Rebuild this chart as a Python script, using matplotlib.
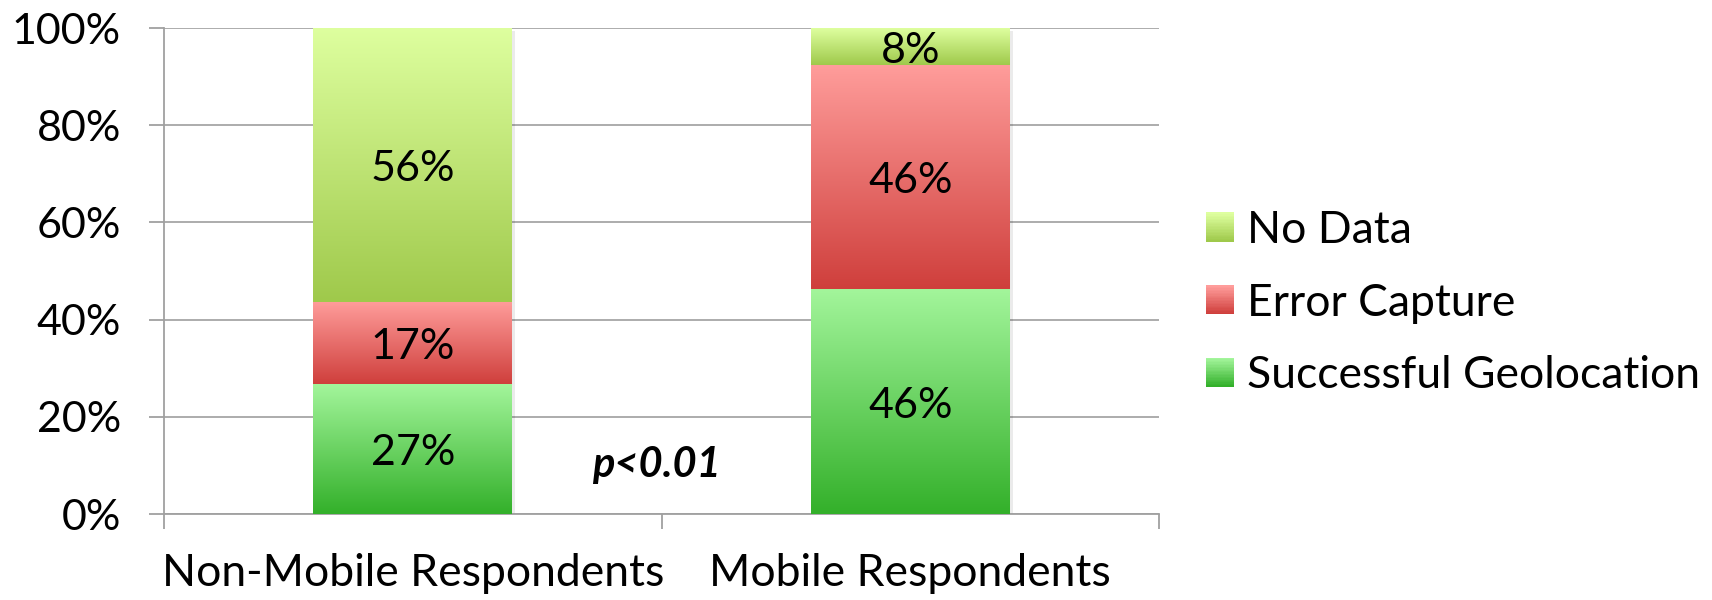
import numpy as np
import matplotlib
matplotlib.use("Agg")
import matplotlib.pyplot as plt
import matplotlib.transforms as mtransforms
from matplotlib.colors import LinearSegmentedColormap
from matplotlib.patches import Rectangle
from matplotlib.legend_handler import HandlerBase

plt.rcParams['font.family'] = ['Lato', 'DejaVu Sans']

categories = ["Non-Mobile Respondents", "Mobile Respondents"]
series_names = ["Successful Geolocation", "Error Capture", "No Data"]
successful = [26.7, 46.2]
error_capture = [16.9, 46.2]
no_data = [56.4, 7.6]
yticks = [0, 20, 40, 60, 80, 100]
annotation = "p<0.01"

# gradient colours (top, bottom)
grads = {
    "Successful Geolocation": ("#a3f59b", "#33b02a"),
    "Error Capture": ("#ff9d9b", "#cf3f3c"),
    "No Data": ("#deff9f", "#9fc94b"),
}

FS = 31

fig = plt.figure(figsize=(17.12, 6.0), dpi=100)
ax = fig.add_axes([164/1712, 86/600, (1159-164)/1712, (514-28)/600])

x = np.arange(len(categories))
width = 0.4
grad_img = np.linspace(1, 0, 256).reshape(-1, 1)
label_tr = ax.transData + mtransforms.ScaledTranslation(0, -3/72, fig.dpi_scale_trans)

bottom = np.zeros(len(categories))
for name, vals in zip(series_names, [successful, error_capture, no_data]):
    top_c, bot_c = grads[name]
    cmap = LinearSegmentedColormap.from_list(name, [bot_c, top_c])
    bars = ax.bar(x, vals, width, bottom=bottom, color='none', edgecolor='none', zorder=3)
    for rect, v, b in zip(bars, vals, bottom):
        x0 = rect.get_x()
        x1 = x0 + rect.get_width()
        # soft shadow
        sh = Rectangle((x0 + 0.006, b - 0.6), rect.get_width(), v, facecolor='#000000',
                       alpha=0.08, edgecolor='none', zorder=2)
        ax.add_patch(sh)
        im = ax.imshow(grad_img, cmap=cmap, aspect='auto', extent=[x0, x1, b, b + v],
                       zorder=3, interpolation='bicubic')
        im.set_clip_path(rect)
        ax.text(rect.get_x() + rect.get_width() / 2, b + v / 2, f"{v:.0f}%",
                ha='center', va='center', fontsize=FS, color='black', zorder=5,
                transform=label_tr)
    bottom = bottom + np.array(vals)

ax.text(0.49, 10, annotation, ha='center', va='center', fontsize=30,
        fontweight='bold', fontstyle='italic', zorder=5)

ax.set_xlim(-0.5, 1.5)
ax.set_ylim(0, 100)
ax.set_yticks(yticks)
ax.set_yticklabels([f"{t}%" for t in yticks], fontsize=FS)
ax.yaxis.grid(True, color='#a6a6a6', linewidth=1.3, zorder=0)
ax.set_axisbelow(True)
for s in ['top', 'right']:
    ax.spines[s].set_visible(False)
for s in ['left', 'bottom']:
    ax.spines[s].set_color('#a0a0a0')
    ax.spines[s].set_linewidth(1.3)
ax.tick_params(axis='y', length=11, width=1.3, color='#a0a0a0', pad=20)
ax.set_xticks(x)
ax.set_xticklabels(categories, fontsize=32)
ax.tick_params(axis='x', which='major', length=0, pad=28)
ax.set_xticks([-0.5, 0.5, 1.5], minor=True)
ax.tick_params(axis='x', which='minor', length=11, width=1.3, color='#a0a0a0')


class GradHandler(HandlerBase):
    def __init__(self, top_c, bot_c):
        super().__init__()
        self.cmap = LinearSegmentedColormap.from_list('h', [bot_c, top_c])

    def create_artists(self, legend, orig_handle, xdescent, ydescent, width, height, fontsize, trans):
        n = 20
        arts = []
        for i in range(n):
            r = Rectangle((-xdescent, -ydescent + height * i / n), width, height / n + 0.3,
                          facecolor=self.cmap(i / (n - 1)), edgecolor='none', transform=trans)
            arts.append(r)
        return arts


handles = [Rectangle((0, 0), 1, 1) for _ in range(3)]
legend_order = ["No Data", "Error Capture", "Successful Geolocation"]
leg = fig.legend(handles, legend_order,
                 handler_map={h: GradHandler(*grads[n]) for h, n in zip(handles, legend_order)},
                 loc='center left', bbox_to_anchor=(1206/1712, 0.495), frameon=False,
                 fontsize=32, handlelength=0.62, handleheight=0.62, handletextpad=0.3,
                 labelspacing=0.71, borderpad=0, borderaxespad=0)

fig.savefig("out.png", dpi=100)
